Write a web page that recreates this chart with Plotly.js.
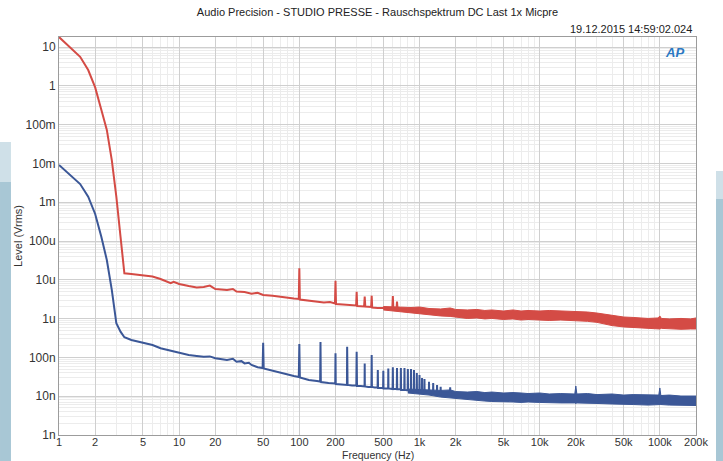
<!DOCTYPE html>
<html>
<head>
<meta charset="utf-8">
<script src="https://cdn.plot.ly/plotly-3.0.1.min.js"></script>
<style>
  html, body { margin: 0; padding: 0; background: #ffffff; }
  #chart { width: 723px; height: 461px; }
</style>
</head>
<body>
<div id="chart"></div>
<script>
// ---------------- data ----------------
const xTickVals = [1, 2, 5, 10, 20, 50, 100, 200, 500, 1000, 2000, 5000, 10000, 20000, 50000, 100000, 200000];
const xTickText = ['1', '2', '5', '10', '20', '50', '100', '200', '500', '1k', '2k', '5k', '10k', '20k', '50k', '100k', '200k'];
const yTickVals = [1e-9, 1e-8, 1e-7, 1e-6, 1e-5, 1e-4, 1e-3, 1e-2, 1e-1, 1, 10];
const yTickText = ['1n', '10n', '100n', '1u', '10u', '100u', '1m', '10m', '100m', '1', '10'];

// Red curve (upper channel) – main line, Hz / Vrms
const redFreq = [1, 1.25, 1.5, 1.75, 2, 2.25, 2.5, 2.75, 3, 3.25, 3.4, 3.5, 4, 5, 6, 7, 8, 8.5, 9, 10, 12, 14, 16, 18, 20, 25, 28, 30, 35, 40, 45, 50, 60, 70, 80, 90, 99, 100, 101, 120, 140, 160, 180, 198, 200, 202, 230, 260, 297, 300, 303, 346, 350, 354, 396, 400, 404, 450, 500, 550, 594, 600, 606, 643, 650, 657, 700];
const redLevel = [18.1, 9.3, 5.6, 2.55, 0.91, 0.24, 0.073, 0.0122, 1.39e-3, 1.29e-4, 3.2e-5, 1.47e-5, 1.41e-5, 1.29e-5, 1.22e-5, 1.05e-5, 8.8e-6, 8.2e-6, 8.9e-6, 7.8e-6, 6.9e-6, 6.3e-6, 6.5e-6, 7.1e-6, 5.8e-6, 5.5e-6, 5.8e-6, 5.0e-6, 4.85e-6, 4.4e-6, 4.6e-6, 4.06e-6, 3.9e-6, 3.6e-6, 3.5e-6, 3.3e-6, 3.2e-6, 1.98e-5, 3.1e-6, 2.92e-6, 2.84e-6, 2.6e-6, 2.68e-6, 2.45e-6, 9.5e-6, 2.38e-6, 2.31e-6, 2.24e-6, 2.18e-6, 4.9e-6, 2.11e-6, 2.05e-6, 3.7e-6, 2.05e-6, 1.99e-6, 3.9e-6, 1.93e-6, 1.88e-6, 1.88e-6, 1.77e-6, 1.82e-6, 3.8e-6, 1.77e-6, 1.72e-6, 2.73e-6, 1.72e-6, 1.67e-6];

// Red curve – noise band above ~500 Hz (upper / lower edge of the band)
const redBandFreq = [500, 600, 700, 850, 1000, 1200, 1500, 1800, 2000, 2500, 3000, 3500, 4000, 5000, 6000, 7000, 8000, 10000, 12000, 15000, 18000, 20000, 25000, 30000, 35000, 40000, 50000, 60000, 70000, 80000, 97000, 100000, 103000, 120000, 150000, 180000, 200000];
const redBandHigh = [2.05e-6, 1.99e-6, 1.99e-6, 1.93e-6, 1.99e-6, 1.82e-6, 1.77e-6, 1.88e-6, 1.72e-6, 1.67e-6, 1.72e-6, 1.62e-6, 1.67e-6, 1.57e-6, 1.67e-6, 1.57e-6, 1.62e-6, 1.57e-6, 1.62e-6, 1.57e-6, 1.53e-6, 1.57e-6, 1.48e-6, 1.39e-6, 1.28e-6, 1.20e-6, 1.10e-6, 1.07e-6, 1.04e-6, 1.01e-6, 1.04e-6, 1.17e-6, 1.01e-6, 9.8e-7, 1.01e-6, 9.8e-7, 1.04e-6];
const redBandLow = [1.67e-6, 1.57e-6, 1.48e-6, 1.39e-6, 1.35e-6, 1.24e-6, 1.17e-6, 1.14e-6, 1.10e-6, 1.01e-6, 1.04e-6, 9.8e-7, 1.01e-6, 9.5e-7, 9.8e-7, 9.2e-7, 9.5e-7, 9.2e-7, 8.95e-7, 9.2e-7, 8.95e-7, 8.95e-7, 8.5e-7, 8.0e-7, 7.3e-7, 6.6e-7, 6.1e-7, 5.9e-7, 5.7e-7, 5.6e-7, 5.6e-7, 5.4e-7, 5.6e-7, 5.4e-7, 5.3e-7, 5.4e-7, 5.4e-7];

// Blue curve (lower channel) – main line, Hz / Vrms
const blueFreq = [1, 1.25, 1.5, 1.75, 2, 2.25, 2.5, 2.75, 3, 3.25, 3.5, 4, 5, 6, 7, 8, 9, 10, 12, 14, 16, 18, 20, 25, 28, 30, 33, 35, 38, 40, 45, 49.5, 50, 50.5, 60, 70, 80, 90, 99, 100, 101, 120, 140, 149, 150, 151, 175, 199, 200, 201, 225, 249, 250, 252, 275, 298, 300, 302, 325, 349, 350, 351, 375, 398, 400, 402, 425, 448, 450, 452, 475, 498, 500, 502, 548, 550, 552, 597, 600, 603, 647, 650, 653, 697, 700, 703, 747, 750, 753, 797, 800, 803, 847, 850, 853, 897, 900, 903, 947, 950, 953, 997, 1000, 1003, 1047, 1050, 1053, 1097, 1100, 1103, 1196, 1200, 1204, 1296, 1300, 1304, 1395, 1400, 1405, 1495, 1500, 1505, 1790, 1800, 1810, 2000];
const blueLevel = [9.1e-3, 5.0e-3, 2.94e-3, 1.39e-3, 4.97e-4, 1.29e-4, 3.24e-5, 5.5e-6, 7.6e-7, 4.6e-7, 3.3e-7, 2.8e-7, 2.4e-7, 2.09e-7, 1.72e-7, 1.55e-7, 1.40e-7, 1.32e-7, 1.15e-7, 1.09e-7, 1.04e-7, 1.06e-7, 9.5e-8, 8.6e-8, 9.2e-8, 7.7e-8, 8.0e-8, 7.0e-8, 7.3e-8, 6.4e-8, 5.6e-8, 5.3e-8, 2.4e-7, 5.2e-8, 4.5e-8, 3.9e-8, 3.5e-8, 3.3e-8, 3.13e-8, 2.2e-7, 3.04e-8, 2.62e-8, 2.46e-8, 2.39e-8, 2.5e-7, 2.32e-8, 2.19e-8, 2.12e-8, 1.28e-7, 2.06e-8, 2.0e-8, 1.95e-8, 1.89e-7, 1.95e-8, 1.89e-8, 1.89e-8, 1.40e-7, 1.83e-8, 1.83e-8, 1.78e-8, 7.0e-8, 1.78e-8, 1.73e-8, 1.73e-8, 1.15e-7, 1.73e-8, 1.68e-8, 1.68e-8, 4.7e-8, 1.63e-8, 1.63e-8, 1.63e-8, 4.5e-8, 1.58e-8, 1.58e-8, 5.2e-8, 1.58e-8, 1.53e-8, 5.6e-8, 1.53e-8, 1.53e-8, 5.3e-8, 1.5e-8, 1.5e-8, 5.3e-8, 1.45e-8, 1.45e-8, 5.3e-8, 1.45e-8, 1.41e-8, 5.0e-8, 1.41e-8, 1.41e-8, 5.0e-8, 1.36e-8, 1.36e-8, 4.7e-8, 1.36e-8, 1.36e-8, 3.96e-8, 1.32e-8, 1.32e-8, 3.5e-8, 1.32e-8, 1.32e-8, 2.94e-8, 1.28e-8, 1.28e-8, 2.77e-8, 1.28e-8, 1.24e-8, 2.37e-8, 1.24e-8, 1.21e-8, 2.19e-8, 1.21e-8, 1.21e-8, 1.95e-8, 1.17e-8, 1.17e-8, 1.76e-8, 1.17e-8, 1.14e-8, 1.70e-8, 1.14e-8, 1.1e-8];

// Blue curve – noise band above ~800 Hz
const blueBandFreq = [800, 1000, 1200, 1500, 1800, 2000, 2500, 3000, 3500, 4000, 5000, 6000, 7000, 8000, 10000, 12000, 15000, 19600, 20000, 20400, 25000, 30000, 40000, 50000, 60000, 80000, 98000, 100000, 102000, 120000, 150000, 200000];
const blueBandHigh = [1.53e-8, 1.49e-8, 1.45e-8, 1.41e-8, 1.45e-8, 1.32e-8, 1.28e-8, 1.32e-8, 1.24e-8, 1.28e-8, 1.21e-8, 1.24e-8, 1.21e-8, 1.17e-8, 1.21e-8, 1.14e-8, 1.17e-8, 1.14e-8, 1.83e-8, 1.14e-8, 1.17e-8, 1.10e-8, 1.14e-8, 1.07e-8, 1.10e-8, 1.07e-8, 1.07e-8, 1.63e-8, 1.04e-8, 1.07e-8, 1.01e-8, 1.01e-8];
const blueBandLow = [1.21e-8, 1.14e-8, 1.07e-8, 9.5e-9, 9.0e-9, 8.7e-9, 8.0e-9, 7.8e-9, 7.5e-9, 7.3e-9, 7.3e-9, 7.1e-9, 6.9e-9, 7.1e-9, 6.9e-9, 6.7e-9, 6.7e-9, 6.7e-9, 6.5e-9, 6.7e-9, 6.7e-9, 6.5e-9, 6.3e-9, 6.3e-9, 6.1e-9, 5.9e-9, 6.1e-9, 5.9e-9, 6.1e-9, 5.9e-9, 5.75e-9, 5.75e-9];

// ---------------- styling ----------------
const RED = '#d44b45';
const BLUE = '#3b5797';
const FONT = 'Arial, "Liberation Sans", sans-serif';

// minor grid positions (digits 2..9 inside each decade) – axis styling only
const xMinor = [], yMinor = [];
for (let e = 0; e <= 5; e++) for (let d = 2; d <= 9; d++) { const v = d * Math.pow(10, e); if (v <= 200000) xMinor.push(v); }
for (let e = -9; e <= 1; e++) for (let d = 2; d <= 9; d++) yMinor.push(d * Math.pow(10, e));

function bandTraces(freq, lo, hi, color) {
  return [
    { x: freq, y: lo, type: 'scatter', mode: 'lines', line: { color: color, width: 1 }, hoverinfo: 'skip', showlegend: false },
    { x: freq, y: hi, type: 'scatter', mode: 'lines', line: { color: color, width: 1 }, fill: 'tonexty', fillcolor: color, hoverinfo: 'skip', showlegend: false }
  ];
}

const traces = [
  ...bandTraces(blueBandFreq, blueBandLow, blueBandHigh, BLUE),
  { x: blueFreq, y: blueLevel, type: 'scatter', mode: 'lines', line: { color: BLUE, width: 2 }, showlegend: false },
  ...bandTraces(redBandFreq, redBandLow, redBandHigh, RED),
  { x: redFreq, y: redLevel, type: 'scatter', mode: 'lines', line: { color: RED, width: 2 }, showlegend: false }
];

const layout = {
  width: 723, height: 461,
  margin: { l: 59, r: 27, t: 37, b: 26 },
  paper_bgcolor: '#ffffff', plot_bgcolor: '#ffffff',
  font: { family: FONT, size: 12, color: '#333333' },
  title: { text: 'Audio Precision - STUDIO PRESSE - Rauschspektrum DC Last 1x Micpre', font: { family: FONT, size: 11, color: '#222222' }, x: 0.5, xanchor: 'center', xref: 'paper', y: 0.974, yanchor: 'middle' },
  showlegend: false,
  xaxis: {
    type: 'log', range: [0, Math.log10(200000)],
    tickmode: 'array', tickvals: xTickVals, ticktext: xTickText,
    showgrid: true, gridcolor: '#cfcfcf', gridwidth: 1,
    minor: { tickmode: 'array', tickvals: xMinor, showgrid: true, gridcolor: '#ececec', ticks: '' },
    showline: true, mirror: true, linecolor: '#9c9c9c', linewidth: 1,
    zeroline: false, ticks: '', ticklabelstandoff: -3, tickfont: { size: 11, color: '#333333' }
  },
  yaxis: {
    type: 'log', range: [-9, 1.258],
    tickmode: 'array', tickvals: yTickVals, ticktext: yTickText,
    showgrid: true, gridcolor: '#cfcfcf', gridwidth: 1,
    minor: { tickmode: 'array', tickvals: yMinor, showgrid: true, gridcolor: '#ececec', ticks: '' },
    showline: true, mirror: true, linecolor: '#9c9c9c', linewidth: 1,
    zeroline: false, ticks: '', tickfont: { size: 12, color: '#333333' },
    title: { text: 'Level (Vrms)', font: { size: 11, color: '#333333' }, standoff: 0 }
  },
  annotations: [
    { text: 'Frequency (Hz)', xref: 'paper', yref: 'paper', x: 0.5, y: -0.0503, xanchor: 'center', yanchor: 'middle', borderpad: 0, showarrow: false, font: { family: FONT, size: 10.5, color: '#333333' } },
    { text: '19.12.2015 14:59:02.024', xref: 'paper', yref: 'paper', x: 0.997, y: 1.02, xanchor: 'right', yanchor: 'middle', showarrow: false, font: { family: FONT, size: 11, color: '#222222' } },
    { text: '<b><i>AP</i></b>', xref: 'paper', yref: 'paper', x: 0.985, y: 0.985, xanchor: 'right', yanchor: 'top', showarrow: false, font: { family: FONT, size: 13, color: '#2b78c2' } }
  ],
  shapes: [
    { type: 'rect', xref: 'paper', yref: 'paper', x0: -0.0926, x1: -0.0754, y0: 0.6357, y1: 0.7362, fillcolor: '#cfe0e8', line: { width: 0 }, layer: 'below' },
    { type: 'rect', xref: 'paper', yref: 'paper', x0: -0.0926, x1: -0.0754, y0: -0.07, y1: 0.6357, fillcolor: '#a8c7d5', line: { width: 0 }, layer: 'below' },
    { type: 'rect', xref: 'paper', yref: 'paper', x0: 1.0314, x1: 1.045, y0: 0.5930, y1: 0.6633, fillcolor: '#cfe0e8', line: { width: 0 }, layer: 'below' },
    { type: 'rect', xref: 'paper', yref: 'paper', x0: 1.0314, x1: 1.045, y0: -0.07, y1: 0.5930, fillcolor: '#a8c7d5', line: { width: 0 }, layer: 'below' }
  ]
};

Plotly.newPlot('chart', traces, layout, { staticPlot: true, displayModeBar: false });
</script>
</body>
</html>
